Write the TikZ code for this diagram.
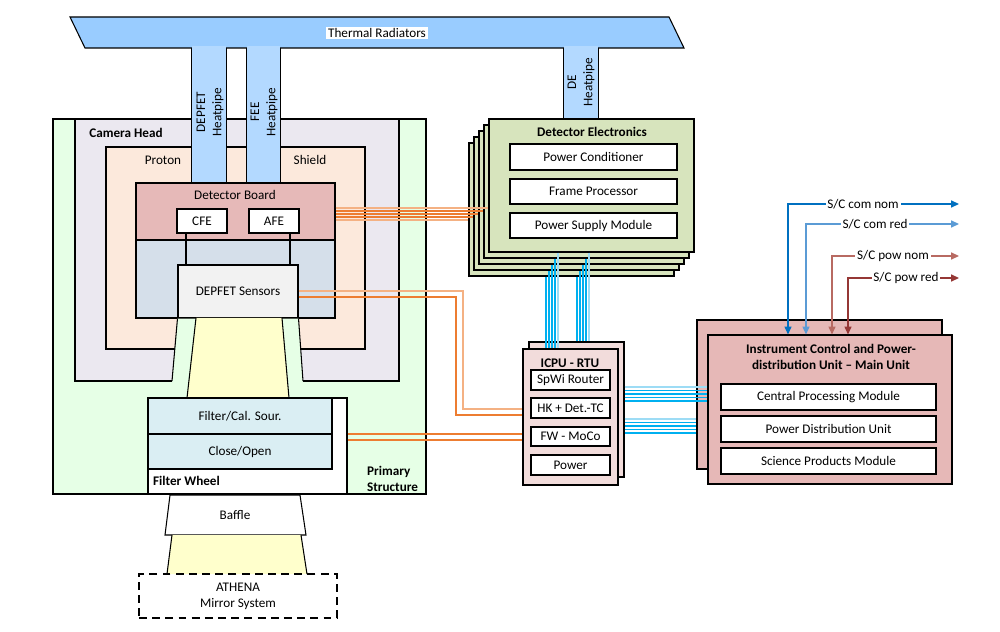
\documentclass[tikz,border=0pt]{standalone}
\usepackage{fontspec}
\setmainfont{Carlito}
\usepackage{tikz}
\usetikzlibrary{positioning,arrows.meta,calc}
\definecolor{radc}{HTML}{99CCFF}
\definecolor{pipec}{HTML}{B3D9FF}
\definecolor{primc}{HTML}{E6FFE6}
\definecolor{camc}{HTML}{EBE8F0}
\definecolor{shieldc}{HTML}{FCE9DC}
\definecolor{boardc}{HTML}{E6B9B8}
\definecolor{sensc}{HTML}{D5DFEA}
\definecolor{depc}{HTML}{F2F2F2}
\definecolor{beamc}{HTML}{FFFFCC}
\definecolor{filtc}{HTML}{DAEEF3}
\definecolor{dec}{HTML}{D7E4BD}
\definecolor{icpuc}{HTML}{F2DCDB}
\definecolor{icuc}{HTML}{E6B8B7}
\definecolor{cabc}{HTML}{ED7D31}
\definecolor{cablc}{HTML}{F4B183}
\definecolor{spwc}{HTML}{00B0F0}
\definecolor{spwlc}{HTML}{9DDCF5}
\definecolor{comc}{HTML}{0070C0}
\definecolor{comlc}{HTML}{5B9BD5}
\definecolor{powc}{HTML}{953735}
\definecolor{powlc}{HTML}{B86A62}
\newcommand{\dfont}{\fontsize{7.5}{9.2}\selectfont}
\tikzset{
  rect/.style args={#1/#2/#3/#4}{at={({((#1)+(#3))/2},{((#2)+(#4))/2})},
              minimum width={((#3)-(#1))*0.2mm}, minimum height={((#4)-(#2))*0.2mm}},
  box/.style={draw, line width=0.6pt, inner sep=0pt, align=center},
  wbox/.style={box, fill=white},
  sheet/.style={box, fill=dec},
  pipe/.style={fill=pipec, inner sep=0pt},
  lbl/.style={inner sep=1pt, align=center},
  blbl/.style={lbl, font=\dfont\bfseries},
  edge/.style={line width=0.6pt},
  cab/.style={draw=cabc, line width=0.7pt},
  cabl/.style={draw=cablc, line width=0.9pt},
  spw/.style={draw=spwc, line width=0.7pt},
  spwl/.style={draw=spwlc, line width=0.9pt},
  sc/.style={{Triangle[length=4.5pt,width=4pt]}-{Triangle[length=4.5pt,width=4pt]}, line width=0.7pt},
}

\begin{document}
\begin{tikzpicture}[x=0.2mm, y=-0.2mm, font=\dfont]
  \useasboundingbox (0,0) rectangle (1000,632);

  % radiators
  \draw[edge, fill=radc] (70,17) -- (669,17) -- (684,48) -- (85,48) -- cycle;
  \node[lbl, fill=white] (rad) at (377,33) {Thermal Radiators};

  % camera head
  \node[box, fill=primc, rect=53/119/426/494] (prim) {};
  \node[box, fill=camc, rect=75/119/399/381] (cam) {};
  \node[box, fill=shieldc, rect=106/147/365/349] (shield) {};
  \node[blbl] (camlbl) at (126,133) {Camera Head};
  \node[lbl] (protlbl) at (163,160) {Proton};
  \node[lbl] (shieldlbl) at (310,160) {Shield};
  \node[blbl, align=left, anchor=west] (primlbl) at (365,479) {Primary\\Structure};

  % heat pipes
  \node[pipe, rect=192/46/226/183] (hpdep) {};
  \node[pipe, rect=247/46/280/183] (hpfee) {};
  \node[pipe, rect=564/46/598/119] (hpde) {};
  \foreach \hp in {hpdep,hpfee,hpde}
    \draw[edge] (\hp.north west |- 0,48) -- (\hp.south west)
                (\hp.north east |- 0,48) -- (\hp.south east);
  \node[lbl, rotate=90] (hpdeplbl) at (210,112) {DEPFET\\Heatpipe};
  \node[lbl, rotate=90] (hpfeelbl) at (264,112) {FEE\\Heatpipe};
  \node[lbl, rotate=90] (hpdelbl) at (581,82) {DE\\Heatpipe};

  % detector
  \node[box, fill=boardc, rect=136/183/335/240] (board) {};
  \node[lbl] (boardlbl) at (235,195) {Detector Board};
  \node[wbox, rect=177/209/227/233] (cfe) {CFE};
  \node[wbox, rect=249/209/299/233] (afe) {AFE};
  \node[box, fill=sensc, rect=136/240/335/318] (sens) {};
  \node[box, fill=depc, rect=178/265/298/318] (dep) {DEPFET Sensors};
  \draw[edge] (cfe.south -| 186,0) -- (dep.north -| 186,0);
  \draw[edge] (afe.south -| 290,0) -- (dep.north -| 290,0);

  % light path
  \fill[primc] (dep.south west) -- (dep.south east) -- (303,382) -- (172,382) -- cycle;
  \draw[edge] (dep.south west) -- (172,381) (dep.south east) -- (303,381);
  \fill[beamc] (196,318) -- (282,318) -- (289,398) -- (187,398) -- cycle;
  \draw[edge] (196,318) -- (187,398) (282,318) -- (289,398);

  % filter wheel
  \node[wbox, rect=148/398/347/494] (fw) {};
  \node[box, fill=filtc, rect=148/398/332/434] (filt) {Filter/Cal. Sour.};
  \node[box, fill=filtc, rect=148/434/332/469] (shut) {Close/Open};
  \node[blbl, anchor=west] (fwlbl) at (151,481) {Filter Wheel};

  % baffle and mirror
  \draw[edge, fill=white] (170,495) -- (300,495) -- (306,535) -- (165,535) -- cycle;
  \node[lbl] (baffle) at (235,515) {Baffle};
  \fill[beamc] (172,535) -- (301,535) -- (307,574) -- (167,574) -- cycle;
  \draw[edge] (172,535) -- (167,574) (301,535) -- (307,574);
  \node[box, dash pattern=on 4.5pt off 3pt, rect=139/574/337/618] (mirror) {ATHENA\\Mirror System};

  % detector electronics
  \foreach \k in {4,3,2,1}
    \node[sheet, rect={489-5*\k}/{119+6*\k}/{694-5*\k}/{252+6*\k}] (de\k) {};
  \node[sheet, rect=489/119/694/252] (de0) {};
  \node[blbl] (delbl) at (592,132) {Detector Electronics};
  \node[wbox, rect=510/144/677/170] (pc) {Power Conditioner};
  \node[wbox, rect=510/179/677/204] (fp) {Frame Processor};
  \node[wbox, rect=510/213/677/238] (psm) {Power Supply Module};

  % icpu
  \node[box, fill=icpuc, rect=529/342/624/477] (icpu1) {};
  \node[box, fill=icpuc, rect=523/349/618/485] (icpu0) {};
  \node[blbl] (icpulbl) at (570,363) {ICPU - RTU};
  \node[wbox, rect=531/370/610/390] (spwi) {SpWi Router};
  \node[wbox, rect=531/398/610/418] (hk) {HK + Det.-TC};
  \node[wbox, rect=531/427/610/446] (moco) {FW - MoCo};
  \node[wbox, rect=531/455/610/475] (pwr) {Power};

  % icu main unit
  \node[box, fill=icuc, rect=697/320/942/469] (icu1) {};
  \node[box, fill=icuc, rect=708/335/952/484] (icu0) {};
  \node[blbl] (iculbl) at (831,357) {Instrument Control and Power-\\distribution Unit – Main Unit};
  \node[wbox, rect=721/384/936/410] (cpm) {Central Processing Module};
  \node[wbox, rect=721/416/936/442] (pdu) {Power Distribution Unit};
  \node[wbox, rect=721/448/936/474] (spm) {Science Products Module};

  % harness
  \foreach \k/\sty in {0/cabl,1/cab,2/cab,3/cab,4/cabl}
    \draw[\sty] (board.east |- 0,208+3*\k) -- (de\k.west |- 0,208+3*\k);
  \draw[cabl] (dep.east |- 0,291) -| (463,409) -- (icpu0.west |- 0,409);
  \draw[cab] (dep.east |- 0,297) -| (456,415) -- (icpu0.west |- 0,415);
  \draw[cab] (fw.east |- 0,434) -- (icpu0.west |- 0,434);
  \draw[cab] (fw.east |- 0,440) -- (icpu0.west |- 0,440);
  \foreach \k/\sty in {0/spwl,1/spw,2/spw,3/spw,4/spw} {
    \draw[\sty] (de\k.south -| 558-3*\k,0) -- (icpu0.north -| 558-3*\k,0);
    \draw[\sty] (de\k.south -| 589-3*\k,0) -- (icpu1.north -| 589-3*\k,0);
  }
  \foreach \y/\sty in {387/spwl,390.5/spw,394/spw,397.5/spw,401/spw}
    \draw[\sty] (icpu1.east |- 0,\y) -- (icu0.west |- 0,\y);
  \foreach \y/\sty in {419/spwl,422.5/spw,426/spw,429.5/spw,433/spw}
    \draw[\sty] (icpu1.east |- 0,\y) -- (icu1.west |- 0,\y);

  % spacecraft interfaces
  \coordinate (scout) at (959,0);
  \draw[sc, comc] (icu0.north -| 788,0) |- (scout |- 0,204);
  \draw[sc, comlc] (icu0.north -| 806,0) |- (scout |- 0,224);
  \draw[sc, powlc] (icu0.north -| 832,0) |- (scout |- 0,256);
  \draw[sc, powc] (icu0.north -| 848,0) |- (scout |- 0,278);
  \node[lbl, fill=white] (comnom) at (863,204) {S/C com nom};
  \node[lbl, fill=white] (comred) at (875,224) {S/C com red};
  \node[lbl, fill=white] (pownom) at (893,256) {S/C pow nom};
  \node[lbl, fill=white] (powred) at (906,278) {S/C pow red};
\end{tikzpicture}
\end{document}
